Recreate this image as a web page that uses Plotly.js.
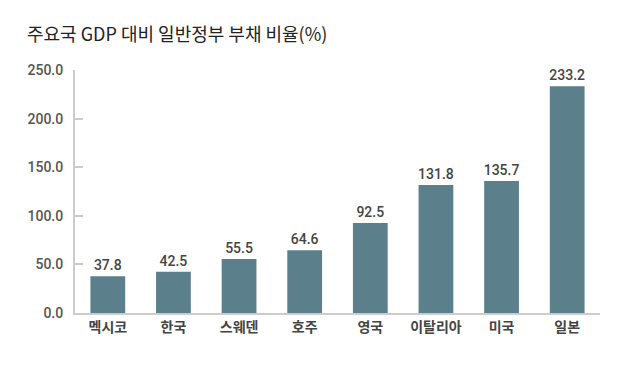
<!DOCTYPE html>
<html>
<head>
<meta charset="utf-8">
<script src="https://cdn.plot.ly/plotly-3.0.1.min.js"></script>
<style>html,body{margin:0;padding:0;background:#fff;}#chart{width:620px;height:366px;}</style>
</head>
<body>
<div id="chart"></div>
<script>
var countries = ["멕시코", "한국", "스웨덴", "호주", "영국", "이탈리아", "미국", "일본"];
var debtRatio = [37.8, 42.5, 55.5, 64.6, 92.5, 131.8, 135.7, 233.2];
var yTickValues = [0, 50, 100, 150, 200, 250];

var numFont = "Roboto, Liberation Sans, Arial, sans-serif";

var trace = {
  type: "bar",
  x: countries,
  y: debtRatio,
  marker: {color: "#5b7f8b"},
  text: debtRatio.map(function(v){return v.toFixed(1);}),
  textposition: "outside",
  constraintext: "none",
  textfont: {family: numFont, size: 14, color: "#444", weight: 500},
  cliponaxis: false,
  hoverinfo: "none"
};

var layout = {
  width: 620, height: 366,
  margin: {l: 75, r: 20, t: 70, b: 53},
  paper_bgcolor: "#fff", plot_bgcolor: "#fff",
  bargap: 0.47,
  showlegend: false,
  title: {
    text: "주요국 GDP 대비 일반정부 부채 비율(%)",
    x: 0, xref: "paper", xanchor: "left",
    y: 0.905, yref: "container", yanchor: "middle",
    pad: {l: -48},
    font: {family: "Noto Sans CJK KR, Noto Sans, sans-serif", size: 18, color: "#222"}
  },
  xaxis: {
    type: "category",
    showline: true, linecolor: "#cccccc", linewidth: 2,
    showgrid: false, zeroline: false, ticks: "",
    tickfont: {family: "Noto Sans CJK KR, sans-serif", size: 14, color: "#444", weight: "bold"},
    fixedrange: true
  },
  yaxis: {
    range: [0, 250],
    tickvals: yTickValues,
    ticktext: yTickValues.map(function(v){return v.toFixed(1);}),
    showline: true, linecolor: "#cccccc", linewidth: 2,
    ticks: "inside", ticklen: 8, tickwidth: 2, tickcolor: "#cccccc",
    showgrid: false, zeroline: false,
    ticklabelstandoff: 7,
    tickfont: {family: numFont, size: 14, color: "#555", weight: 500},
    fixedrange: true
  }
};

Plotly.newPlot("chart", [trace], layout, {displayModeBar: false, staticPlot: true});
</script>
</body>
</html>
